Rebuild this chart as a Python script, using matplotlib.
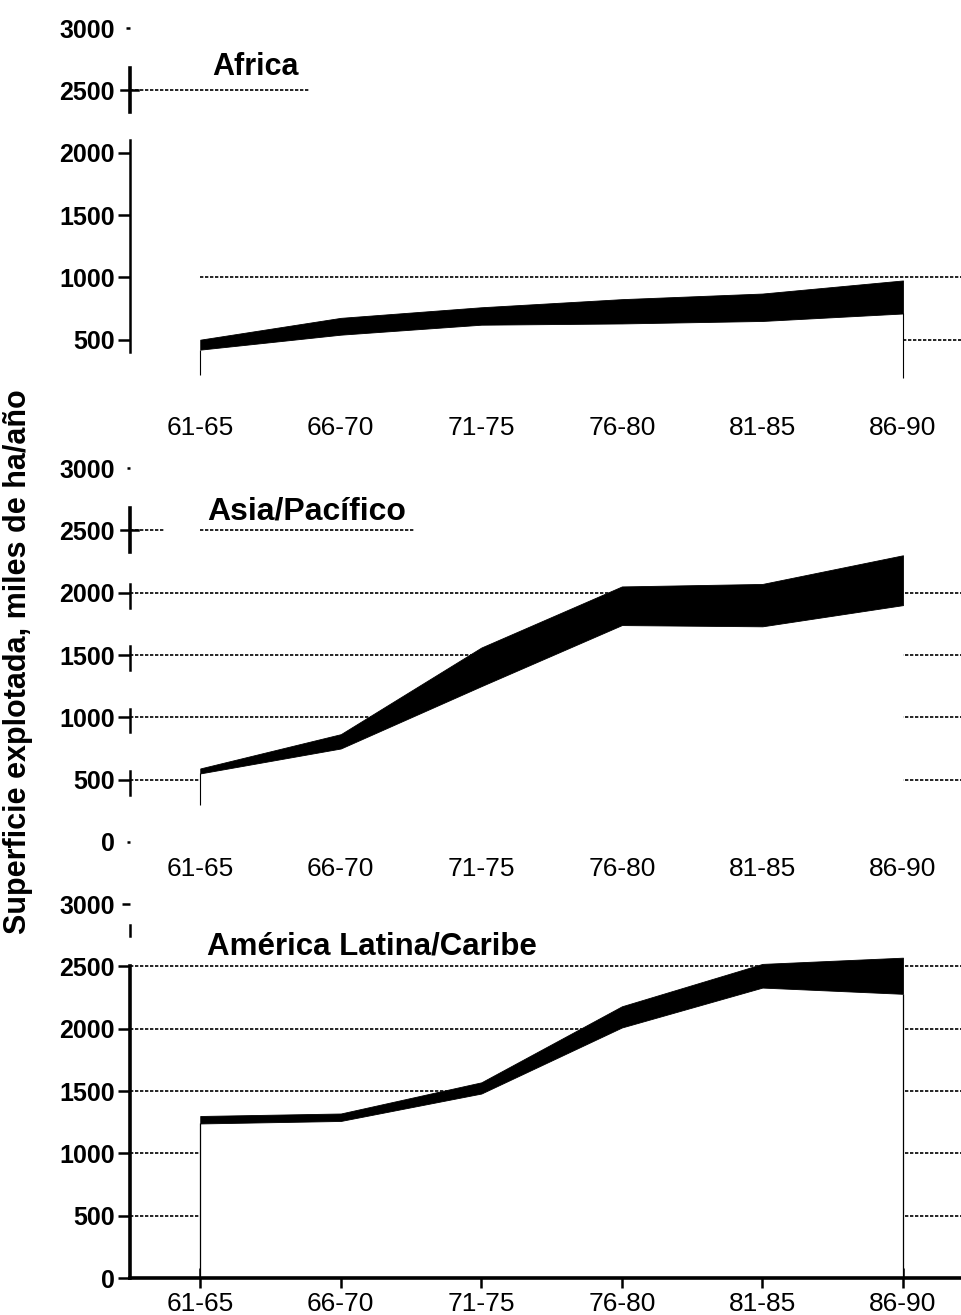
import numpy as np
import matplotlib.pyplot as plt

# Datos (miles de ha/año), banda minimo-maximo por periodo
periodos = ['61-65', '66-70', '71-75', '76-80', '81-85', '86-90']

africa_min = [420, 540, 620, 630, 650, 710]
africa_max = [500, 675, 760, 825, 870, 975]

asia_min = [550, 750, 1250, 1740, 1730, 1900]
asia_max = [590, 865, 1560, 2050, 2070, 2300]

latam_min = [1240, 1260, 1480, 2010, 2330, 2280]
latam_max = [1300, 1320, 1570, 2180, 2520, 2570]

regiones = ['Africa', 'Asia/Pacífico', 'América Latina/Caribe']

plt.rcParams['font.family'] = ['Liberation Sans', 'DejaVu Sans']

fig = plt.figure(figsize=(9.62, 13.15), dpi=100)
bottoms = [0.6943, 0.3597, 0.0281]
axes = [fig.add_axes([0.1351, b, 0.8649, 0.2844]) for b in bottoms]

punteado = (0, (2.0, 1.0))
x = np.arange(len(periodos))
XMIN, XMAX = -0.5, 5.42


def base(ax, minimo, maximo, yticks, xpad):
    ax.set_xlim(XMIN, XMAX)
    ax.set_ylim(0, 3000)
    # zona blanca bajo la banda (tapa las lineas de referencia)
    ax.fill_between(x, 0, maximo, color='white', lw=0, zorder=2)
    ax.fill_between(x, minimo, maximo, color='black', lw=0.6, zorder=3)
    ax.set_xticks(x, periodos)
    ax.tick_params(axis='x', length=0, pad=xpad, labelsize=19)
    ax.set_yticks(yticks)
    ax.tick_params(axis='y', direction='out', length=9, width=1.8, pad=2, labelsize=18)
    for lbl in ax.get_yticklabels():
        lbl.set_fontweight('bold')
    for s in ['top', 'right', 'bottom']:
        ax.spines[s].set_visible(False)
    ax.patch.set_alpha(0)


def linea(ax, y, x0, x1):
    ax.hlines(y, x0, x1, colors='black', lw=1.2, linestyles=[punteado], zorder=1, clip_on=False)


def cruz(ax, y):
    ax.plot([XMIN, XMIN], [y - 170, y + 180], color='black', lw=2.6, clip_on=False, zorder=5)
    ax.plot([XMIN - 0.065, XMIN + 0.06], [y, y], color='black', lw=1.8, clip_on=False, zorder=5)


# 1. Africa
ax = axes[0]
base(ax, africa_min, africa_max, [500, 1000, 1500, 2000, 2500, 3000], 10)
ax.spines['left'].set_bounds(400, 2100)
ax.spines['left'].set_linewidth(1.8)
ax.yaxis.get_major_ticks()[-1].tick1line.set_markersize(3)
ax.yaxis.get_major_ticks()[-2].tick1line.set_markersize(0)
cruz(ax, 2500)
linea(ax, 2500, XMIN, 0.78)
linea(ax, 1000, 0, XMAX)
linea(ax, 500, 5, XMAX)
ax.vlines(0, 220, africa_min[0], colors='black', lw=0.8, zorder=4)
ax.vlines(5, 190, africa_min[-1], colors='black', lw=0.8, zorder=4)
ax.text(0.39, 2690, regiones[0], ha='center', va='center', fontsize=22, fontweight='bold')

# 2. Asia/Pacifico
ax = axes[1]
base(ax, asia_min, asia_max, [0, 500, 1000, 1500, 2000, 2500, 3000], 11)
ax.spines['left'].set_visible(False)
ticks = ax.yaxis.get_major_ticks()
ticks[0].tick1line.set_markersize(2)
ticks[-1].tick1line.set_markersize(2)
ticks[-2].tick1line.set_markersize(0)
for t in [500, 1000, 1500, 2000]:
    ax.plot([XMIN, XMIN], [t - 120, t + 70], color='black', lw=1.8, clip_on=False, zorder=5)
cruz(ax, 2500)
linea(ax, 2500, XMIN, -0.25)
linea(ax, 2500, 0, 1.52)
for t in [500, 1000, 1500, 2000]:
    linea(ax, t, XMIN, XMAX)
ax.vlines(0, 300, asia_min[0], colors='black', lw=0.8, zorder=4)
ax.text(0.76, 2650, regiones[1], ha='center', va='center', fontsize=23, fontweight='bold')

# 3. America Latina/Caribe
ax = axes[2]
base(ax, latam_min, latam_max, [0, 500, 1000, 1500, 2000, 2500, 3000], 3)
ax.spines['left'].set_bounds(0, 2500)
ax.spines['left'].set_linewidth(2.6)
ax.spines['bottom'].set_visible(True)
ax.spines['bottom'].set_linewidth(2.6)
ax.spines['bottom'].set_zorder(6)
ax.tick_params(axis='x', direction='inout', length=14, width=1.8)
ax.yaxis.get_major_ticks()[-1].tick1line.set_markersize(6)
ax.plot([XMIN, XMIN], [2740, 2830], color='black', lw=1.8, clip_on=False, zorder=5)
for t in [500, 1000, 1500, 2000, 2500]:
    linea(ax, t, XMIN, XMAX)
ax.vlines([0, 5], 0, [latam_min[0], latam_min[-1]], colors='black', lw=0.9, zorder=4)
ax.text(1.22, 2660, regiones[2], ha='center', va='center', fontsize=22.5, fontweight='bold')

fig.text(0.019, 0.4966, 'Superficie explotada, miles de ha/año', rotation=90,
         ha='center', va='center', fontsize=22, fontweight='bold')

fig.savefig('out.png', dpi=100)
